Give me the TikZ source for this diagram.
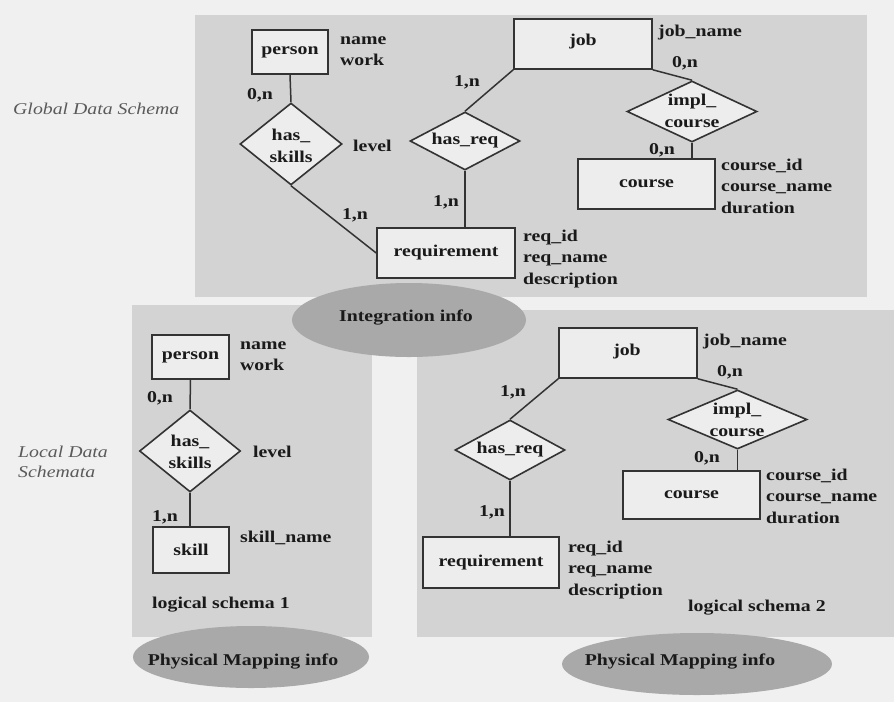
\documentclass[tikz,border=0pt]{standalone}
\usepackage{fontspec}
\setmainfont{Liberation Serif}[FakeStretch=1.2]
\usetikzlibrary{shapes.geometric}

\definecolor{pagebg}{HTML}{F0F0F0}
\definecolor{panel}{HTML}{D3D3D3}
\definecolor{boxfill}{HTML}{EDEDED}
\definecolor{oval}{HTML}{A9A9A9}
\definecolor{ink}{HTML}{333333}
\definecolor{txt}{HTML}{1A1A1A}
\definecolor{side}{HTML}{5A5A5A}

\newcommand\erfont{\fontsize{16.5}{21.5}\selectfont\bfseries}
\newcommand\firstline{\rule{0pt}{12pt}}

\tikzset{
  entity/.style={draw=ink, line width=1.6pt, fill=boxfill, inner sep=0pt, text=txt, font=\erfont},
  relship/.style={diamond, draw=ink, line width=1.6pt, fill=boxfill, inner sep=0pt},
  reltext/.style={align=center, inner sep=0pt, text=txt, font=\fontsize{16.5}{22}\selectfont\bfseries},
  attrs/.style={anchor=north west, align=left, inner sep=0pt, text=txt, font=\erfont},
  card/.style={inner sep=0pt, text=txt, font=\erfont},
  link/.style={draw=ink, line width=1.5pt},
  area/.style={fill=panel},
  infooval/.style={ellipse, fill=oval, inner sep=0pt},
  ovaltext/.style={inner sep=0pt, text=txt, font=\erfont},
  sidelabel/.style={anchor=west, align=left, inner sep=0pt, text=side, font=\fontsize{16.5}{20}\selectfont\itshape},
}

\begin{document}
\begin{tikzpicture}[x=1pt, y=-1pt]
  % page and panels
  \fill[pagebg] (0,0) rectangle (894,702);
  \useasboundingbox (0,0) rectangle (894,702);
  \fill[area] (195,15) rectangle (867,297);
  \fill[area] (132,305) rectangle (372,637);
  \fill[area] (417,310) rectangle (894,637);

  % side captions
  \node[sidelabel] (globcap) at (13,109) {Global Data Schema};
  \node[sidelabel] (loccap) at (18,462) {Local Data\\Schemata};

  % ---------------- global schema ----------------
  \node[entity, minimum width=76pt, minimum height=44pt] (gperson) at (290,52) {person};
  \node[attrs] (gpersonatt) at (340,32) {\firstline name\\work};
  \node[relship, minimum width=102pt, minimum height=82pt] (ghasskills) at (291,144) {};
  \node[reltext] (ghasskillst) at (291,146) {has\_\\skills};
  \node[card, anchor=west] (glevel) at (353,146) {level};
  \node[entity, minimum width=138pt, minimum height=50pt] (greq) at (446,253) {requirement};
  \node[attrs] (greqatt) at (523,229) {\firstline req\_id\\req\_name\\description};
  \node[relship, minimum width=110pt, minimum height=58pt] (ghasreq) at (465,141) {};
  \node[reltext] (ghasreqt) at (465,141) {has\_req};
  \node[entity, minimum width=138pt, minimum height=50pt] (gjob) at (583,44) {};
  \node[card] (gjobt) at (583,42) {job};
  \node[card, anchor=west] (gjobatt) at (658,33) {job\_name};
  \node[relship, minimum width=130pt, minimum height=61pt] (gimpl) at (692,111.5) {};
  \node[reltext] (gimplt) at (692,111) {impl\_\\course};
  \node[entity, minimum width=137pt, minimum height=50pt] (gcourse) at (646.5,184) {course};
  \node[attrs] (gcourseatt) at (721,158) {\firstline course\_id\\course\_name\\duration};

  \node[card] (gc1) at (260,95) {0,n};
  \node[card] (gc2) at (355,215) {1,n};
  \node[card] (gc3) at (467,82) {1,n};
  \node[card] (gc4) at (446,202) {1,n};
  \node[card] (gc5) at (685,63) {0,n};
  \node[card] (gc6) at (662,150) {0,n};

  \draw[link] (gperson.south) -- (ghasskills.north);
  \draw[link] (ghasskills.south) -- (greq.west);
  \draw[link] (ghasreq.south) -- (ghasreq.south |- greq.north);
  \draw[link] (gjob.south west) -- (ghasreq.north);
  \draw[link] (gjob.south east) -- (gimpl.north);
  \draw[link] (gimpl.south) -- (gimpl.south |- gcourse.north);

  % ---------------- logical schema 1 ----------------
  \node[entity, minimum width=77pt, minimum height=44pt] (lperson) at (190.5,357) {person};
  \node[attrs] (lpersonatt) at (240,337) {\firstline name\\work};
  \node[relship, minimum width=101pt, minimum height=82pt] (lhasskills) at (190,451) {};
  \node[reltext] (lhasskillst) at (190,452) {has\_\\skills};
  \node[card, anchor=west] (llevel) at (253,452) {level};
  \node[entity, minimum width=76pt, minimum height=46pt] (lskill) at (191,550) {skill};
  \node[card, anchor=west] (lskillatt) at (240,538) {skill\_name};
  \node[card, anchor=west] (lname) at (152,605) {logical schema 1};
  \node[card] (lc1) at (160,398) {0,n};
  \node[card] (lc2) at (165,517) {1,n};

  \draw[link] (lperson.south) -- (lhasskills.north);
  \draw[link] (lhasskills.south) -- (lhasskills.south |- lskill.north);

  % ---------------- logical schema 2 ----------------
  \node[entity, minimum width=138pt, minimum height=50pt] (rjob) at (628,353) {};
  \node[card] (rjobt) at (627,352) {job};
  \node[card, anchor=west] (rjobatt) at (703,342) {job\_name};
  \node[relship, minimum width=110pt, minimum height=60pt] (rhasreq) at (510,450) {};
  \node[reltext] (rhasreqt) at (510,450) {has\_req};
  \node[entity, minimum width=136pt, minimum height=51pt] (rreq) at (491,562.5) {requirement};
  \node[attrs] (rreqatt) at (568,540) {\firstline req\_id\\req\_name\\description};
  \node[relship, minimum width=139pt, minimum height=59pt] (rimpl) at (737.5,419.5) {};
  \node[reltext] (rimplt) at (737,420) {impl\_\\course};
  \node[entity, minimum width=137pt, minimum height=48pt] (rcourse) at (691.5,495) {course};
  \node[attrs] (rcourseatt) at (766,468) {\firstline course\_id\\course\_name\\duration};
  \node[card, anchor=west] (rname) at (688,608) {logical schema 2};
  \node[card] (rc1) at (730,372) {0,n};
  \node[card] (rc2) at (513,392) {1,n};
  \node[card] (rc3) at (492,512) {1,n};
  \node[card] (rc4) at (707,458) {0,n};

  \draw[link] (rjob.south west) -- (rhasreq.north);
  \draw[link] (rhasreq.south) -- (rhasreq.south |- rreq.north);
  \draw[link] (rjob.south east) -- (rimpl.north);
  \draw[link] (rimpl.south) -- (rimpl.south |- rcourse.north);

  % ---------------- mapping ovals ----------------
  \node[infooval, minimum width=234pt, minimum height=74pt] (integ) at (409,320) {};
  \node[ovaltext] (integt) at (406,318) {Integration info};
  \node[infooval, minimum width=236pt, minimum height=62pt] (phys1) at (251,657) {};
  \node[ovaltext] (phys1t) at (243,662) {Physical Mapping info};
  \node[infooval, minimum width=270pt, minimum height=62pt] (phys2) at (697,664) {};
  \node[ovaltext] (phys2t) at (680,662) {Physical Mapping info};
\end{tikzpicture}
\end{document}
